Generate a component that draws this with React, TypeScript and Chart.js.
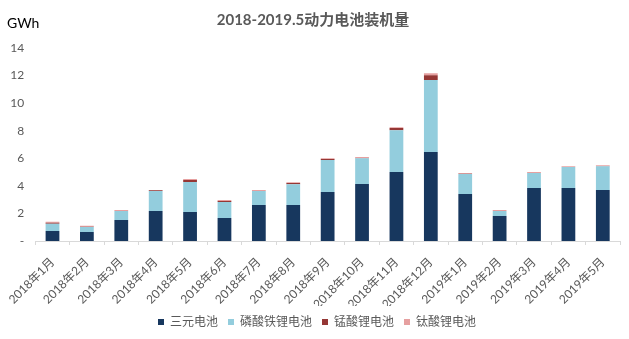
import React, { useEffect, useRef } from "react";
import { Chart, registerables } from "chart.js";

Chart.register(...registerables);

const categories = [
  "2018年1月", "2018年2月", "2018年3月", "2018年4月", "2018年5月", "2018年6月",
  "2018年7月", "2018年8月", "2018年9月", "2018年10月", "2018年11月", "2018年12月",
  "2019年1月", "2019年2月", "2019年3月", "2019年4月", "2019年5月",
];
const ncm = [0.72, 0.65, 1.52, 2.17, 2.1, 1.67, 2.61, 2.61, 3.55, 4.13, 5.0, 6.45, 3.41, 1.81, 3.84, 3.84, 3.7];
const lfp = [0.53, 0.36, 0.65, 1.45, 2.18, 1.16, 1.01, 1.51, 2.32, 1.88, 3.04, 5.22, 1.45, 0.36, 1.09, 1.52, 1.73];
const lmo = [0.08, 0.02, 0.01, 0.06, 0.14, 0.07, 0.01, 0.08, 0.07, 0.01, 0.15, 0.36, 0.01, 0.01, 0.01, 0.01, 0.01];
const lto = [0.07, 0.08, 0.07, 0.02, 0.07, 0.07, 0.07, 0.07, 0.07, 0.07, 0.07, 0.14, 0.06, 0.07, 0.06, 0.06, 0.06];
const seriesNames = ["三元电池", "磷酸铁锂电池", "锰酸锂电池", "钛酸锂电池"];
const yTicks = [0, 2, 4, 6, 8, 10, 12, 14];
const titleText = "2018-2019.5动力电池装机量";
const unitText = "GWh";

const FONT = 'Lato, "Noto Sans CJK SC", sans-serif';

export default function App() {
  const ref = useRef<HTMLCanvasElement | null>(null);
  useEffect(() => {
    document.body.style.margin = "0";
    const unitPlugin = {
      id: "unitLabel",
      afterLayout(chart: any) {
        const lg = chart.legend;
        if (lg) {
          lg.left += 4;
          lg.right += 4;
        }
      },
      afterDraw(chart: any) {
        const ctx = chart.ctx;
        ctx.save();
        ctx.font = `14px ${FONT}`;
        ctx.fillStyle = "#000000";
        ctx.textBaseline = "middle";
        ctx.textAlign = "left";
        ctx.fillText(unitText, 7, 23);
        ctx.restore();
      },
    };
    const colors = ["#17375E", "#93CDDD", "#953735", "#E6A0A0"];
    const vals = [ncm, lfp, lmo, lto];
    const chart = new Chart(ref.current!, {
      type: "bar",
      data: {
        labels: categories,
        datasets: seriesNames.map((n, i) => ({
          label: n,
          data: vals[i],
          backgroundColor: colors[i],
          borderWidth: 0,
          barPercentage: 0.8,
          categoryPercentage: 0.5,
        })),
      },
      options: {
        animation: false,
        responsive: false,
        maintainAspectRatio: false,
        layout: { padding: { left: 6, right: 9, top: 0, bottom: 1 } },
        plugins: {
          title: {
            display: true,
            text: titleText,
            color: "#595959",
            font: { family: FONT, size: 15, weight: "bold" },
            padding: { top: 11, bottom: 19 },
          },
          legend: {
            position: "bottom",
            labels: {
              boxWidth: 6,
              boxHeight: 6,
              color: "#595959",
              font: { family: FONT, size: 12 },
              padding: 10,
            },
          },
          tooltip: { enabled: false },
        },
        scales: {
          x: {
            stacked: true,
            border: { color: "#D9D9D9", width: 1 },
            grid: { display: true, drawOnChartArea: false, drawTicks: true, tickLength: 4, color: "#D9D9D9", offset: true },
            afterFit: (s: any) => {
              s.height = 65;
            },
            ticks: {
              color: "#595959",
              font: { family: FONT, size: 12 },
              maxRotation: 45,
              minRotation: 45,
              autoSkip: false,
              padding: 10,
            },
          },
          y: {
            stacked: true,
            min: 0,
            max: 14,
            border: { display: false },
            grid: { display: false },
            afterFit: (s: any) => {
              s.width = 25;
            },
            afterBuildTicks: (s: any) => {
              s.ticks = yTicks.map((v) => ({ value: v }));
            },
            ticks: {
              color: "#595959",
              font: { family: FONT, size: 12 },
              padding: 3,
              callback: (v: any) => (Number(v) === 0 ? "-" : String(v)),
            },
          },
        },
      },
      plugins: [unitPlugin],
    });
    return () => chart.destroy();
  }, []);
  return (
    <div style={{ position: "relative", width: 629, height: 339 }}>
      <canvas ref={ref} width={629} height={339} style={{ display: "block" }} />
    </div>
  );
}
